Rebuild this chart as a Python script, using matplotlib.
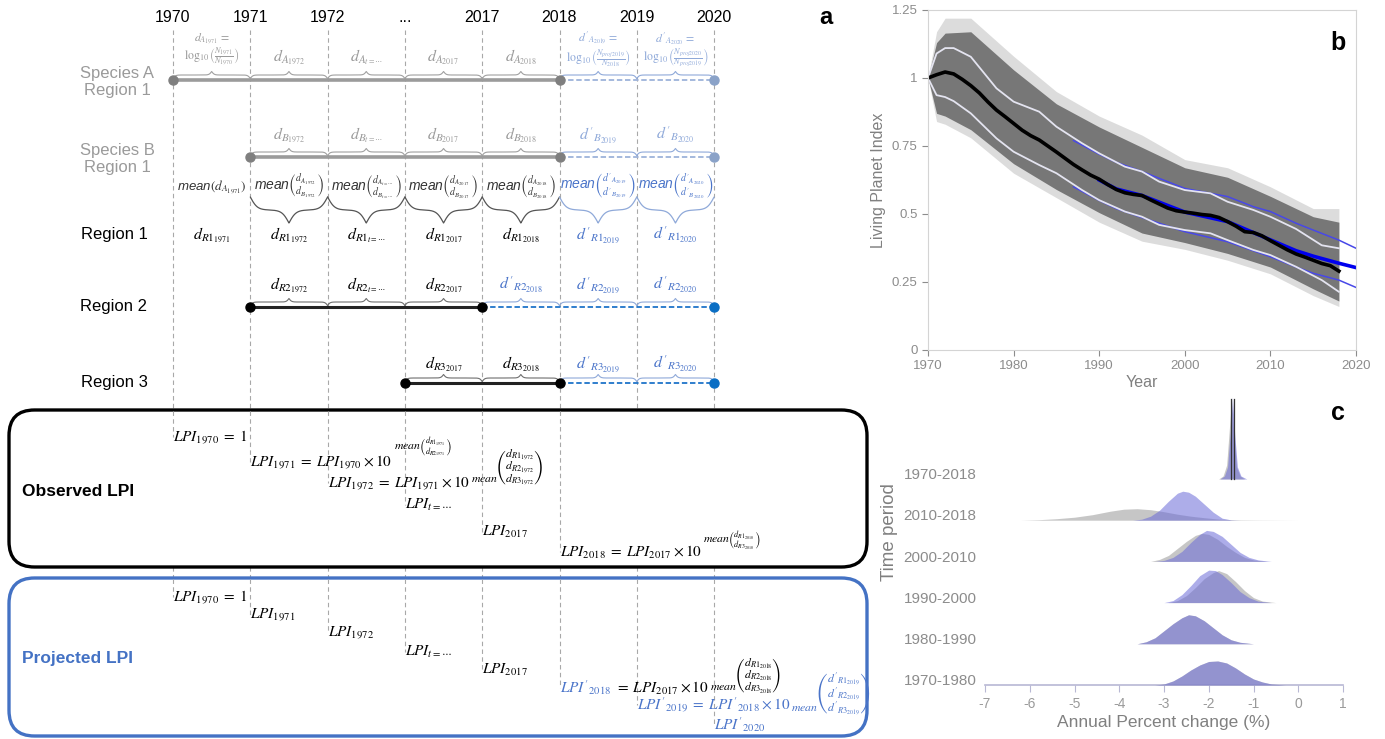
import numpy as np
import matplotlib.pyplot as plt
from matplotlib.patches import FancyBboxPatch

plt.rcParams['mathtext.fontset'] = 'stix'
plt.rcParams['font.family'] = ['Liberation Sans', 'DejaVu Sans']

W, H = 1385, 739

# ---------------- panel a data ----------------
col_years = ["1970", "1971", "1972", "...", "2017", "2018", "2019", "2020"]
iv_years = ["1971", "1972", r"t=\cdots", "2017", "2018", "2019", "2020"]  # year of each interval

# series: (first column, last observed column, last column)
spA_span = (0, 5, 7)
spB_span = (1, 5, 7)
r2_span = (1, 4, 7)
r3_span = (3, 5, 7)
r1_first = 0

# ---------------- panel b data ----------------
lpi_years = list(range(1970, 2019))
lpi_mean = [1.000, 1.012, 1.022, 1.015, 0.995, 0.972, 0.945, 0.912, 0.882, 0.858,
            0.833, 0.808, 0.788, 0.772, 0.750, 0.728, 0.705, 0.682, 0.662, 0.643,
            0.628, 0.608, 0.590, 0.578, 0.572, 0.568, 0.552, 0.537, 0.522, 0.512,
            0.507, 0.503, 0.498, 0.495, 0.487, 0.472, 0.455, 0.435, 0.432, 0.420,
            0.402, 0.385, 0.368, 0.353, 0.342, 0.330, 0.318, 0.310, 0.290]

band_years = [1970, 1971, 1972, 1975, 1980, 1985, 1990, 1995, 2000, 2005, 2010, 2015, 2018]
band_hi = [1.0, 1.13, 1.165, 1.17, 1.03, 0.905, 0.82, 0.745, 0.67, 0.635, 0.565, 0.49, 0.47]
band_lo = [1.0, 0.87, 0.86, 0.81, 0.685, 0.59, 0.505, 0.43, 0.395, 0.355, 0.305, 0.225, 0.18]
fringe_hi = [1.0, 1.17, 1.22, 1.22, 1.08, 0.95, 0.86, 0.79, 0.70, 0.67, 0.60, 0.52, 0.52]
fringe_lo = [1.0, 0.84, 0.83, 0.78, 0.65, 0.56, 0.47, 0.40, 0.37, 0.33, 0.28, 0.20, 0.16]

ci_years = [1970, 1971, 1972, 1973, 1975, 1978, 1980, 1983, 1985, 1988, 1990,
            1993, 1995, 1997, 2000, 2003, 2005, 2008, 2010, 2013, 2016, 2018]
ci_hi = [1.0, 1.09, 1.11, 1.11, 1.078, 0.962, 0.913, 0.876, 0.821, 0.760, 0.723,
         0.674, 0.656, 0.619, 0.588, 0.576, 0.545, 0.515, 0.490, 0.445, 0.385, 0.374]
ci_lo = [1.0, 0.937, 0.93, 0.915, 0.870, 0.778, 0.729, 0.680, 0.650, 0.588, 0.551,
         0.509, 0.490, 0.460, 0.441, 0.429, 0.404, 0.368, 0.349, 0.306, 0.257, 0.214]

proj_years = [1987, 1990, 1992, 1995, 2000, 2005, 2008, 2010, 2013, 2015, 2018, 2020]
proj_hi = [0.77, 0.72, 0.69, 0.656, 0.594, 0.564, 0.527, 0.509, 0.466, 0.441, 0.404, 0.374]
proj_lo = [0.60, 0.55, 0.52, 0.487, 0.435, 0.398, 0.365, 0.343, 0.305, 0.282, 0.257, 0.230]
projmed_years = [1990, 1992, 1995, 2000, 2005, 2010, 2013, 2015, 2018, 2020]
proj_med = [0.625, 0.592, 0.568, 0.507, 0.472, 0.405, 0.365, 0.345, 0.319, 0.303]

# ---------------- panel c data ----------------
periods = ["1970-1980", "1980-1990", "1990-2000", "2000-2010", "2010-2018", "1970-2018"]
grey_x = [
    [-3.2, -3.0, -2.8, -2.6, -2.4, -2.2, -2.0, -1.8, -1.6, -1.4, -1.2, -1.0, -0.8, -0.6, -0.3],
    [-3.6, -3.4, -3.2, -3.0, -2.8, -2.6, -2.45, -2.3, -2.1, -1.9, -1.7, -1.5, -1.3, -1.0],
    [-2.9, -2.7, -2.5, -2.3, -2.1, -1.9, -1.78, -1.6, -1.4, -1.2, -1.0, -0.8, -0.5],
    [-3.3, -3.1, -2.9, -2.7, -2.5, -2.3, -2.15, -2.0, -1.8, -1.6, -1.4, -1.2, -1.0, -0.7],
    [-6.2, -5.8, -5.4, -5.0, -4.6, -4.2, -3.9, -3.6, -3.3, -3.0, -2.7, -2.4, -2.1, -1.8, -1.4, -0.9, 0.0],
    [-1.78, -1.68, -1.6, -1.54, -1.49, -1.44, -1.38, -1.3, -1.2],
]
grey_d = [
    [0, 1, 4, 9, 15, 20, 23.5, 24, 22, 17, 11, 6, 3, 1, 0],
    [0, 2, 6, 13, 20, 26, 29, 28, 23, 16, 9, 4, 1.5, 0],
    [0, 2, 7, 15, 24, 30, 32, 29, 21, 12, 5, 1.5, 0],
    [0, 2, 6, 13, 20, 26, 28, 27, 22, 15, 9, 4, 1.5, 0],
    [0, 0.5, 1.5, 3, 5.5, 9, 11, 11.5, 10.5, 8.5, 6, 4, 2.5, 1.2, 0.4, 0.2, 0],
    [0, 3, 14, 50, 80, 45, 12, 3, 0],
]
purple_x = [
    [-3.2, -3.0, -2.8, -2.6, -2.4, -2.2, -2.0, -1.8, -1.6, -1.4, -1.2, -1.0, -0.8, -0.6, -0.3],
    [-3.6, -3.4, -3.2, -3.0, -2.8, -2.6, -2.45, -2.3, -2.1, -1.9, -1.7, -1.5, -1.3, -1.0],
    [-3.0, -2.8, -2.6, -2.4, -2.2, -2.0, -1.85, -1.7, -1.5, -1.3, -1.1, -0.9, -0.6],
    [-3.2, -3.0, -2.8, -2.6, -2.4, -2.2, -2.05, -1.9, -1.7, -1.5, -1.3, -1.1, -0.9, -0.6],
    [-3.7, -3.5, -3.3, -3.1, -2.9, -2.7, -2.58, -2.45, -2.3, -2.1, -1.9, -1.7, -1.5, -1.3],
    [-1.75, -1.65, -1.58, -1.52, -1.47, -1.42, -1.36, -1.28, -1.15],
]
purple_d = [
    [0, 1, 4, 9, 15, 20, 23.5, 24, 22, 17, 11, 6, 3, 1, 0],
    [0, 2, 6, 13, 20, 26, 29, 28, 23, 16, 9, 4, 1.5, 0],
    [0, 2, 8, 17, 27, 32.5, 32, 28, 20, 11, 5, 1.5, 0],
    [0, 1, 4, 10, 19, 27, 31, 30, 25, 17, 9, 4, 1.5, 0],
    [0, 1, 4, 10, 19, 27, 29, 28, 24, 16, 8, 2, 0.3, 0],
    [0, 3, 12, 45, 82, 45, 12, 3, 0],
]
overall_medians = [-1.50, -1.44]
x_ticks_c = [-7, -6, -5, -4, -3, -2, -1, 0, 1]

# ---------------- colours ----------------
GREY_TXT = '#9a9a9a'
LBLUE_TXT = '#8fa9d9'
BLUE_TXT = '#4a74c9'
BOX_BLUE = '#4472c4'

fig = plt.figure(figsize=(W / 100, H / 100), dpi=100)

# ========== panel a ==========
CW = 77.3  # pixels per column


def cx(px):
    return (px - 173) / CW


ax = fig.add_axes([0, 0, 870 / W, 1])
ax.set_xlim(cx(0), cx(870))
ax.set_ylim(H, 0)
ax.axis('off')


def brace(x0, x1, y, h, color, lw=0.8, beta=60.0, up=True):
    xs = np.linspace(x0, x1, 201)
    half = xs[:101]
    yh = 1 / (1 + np.exp(-beta * (half - half[0]))) + 1 / (1 + np.exp(-beta * (half - half[-1])))
    yy = np.concatenate([yh, yh[-2::-1]]) - 0.5
    sign = -1 if up else 1
    ax.plot(xs, y + sign * yy * h, color=color, lw=lw, zorder=3, solid_capstyle='round')


# year header and dashed guides
for i, yr in enumerate(col_years):
    ax.text(i, 17, yr, ha='center', va='center', fontsize=11.5, color='black')
    ax.plot([i, i], [30, 737], ls=(0, (4, 3)), color='#a8a8a8', lw=0.8, zorder=1)

# boxes
obs_box = FancyBboxPatch((cx(9), 410), cx(867) - cx(9), 157,
                         boxstyle='round,pad=0,rounding_size=0.33', mutation_aspect=CW,
                         fc='white', ec='black', lw=2.4, zorder=2)
proj_box = FancyBboxPatch((cx(9), 578), cx(867) - cx(9), 158,
                          boxstyle='round,pad=0,rounding_size=0.33', mutation_aspect=CW,
                          fc='white', ec=BOX_BLUE, lw=2.4, zorder=2)
ax.add_patch(obs_box)
ax.add_patch(proj_box)

# row labels
ax.text(cx(117), 82, "Species A\nRegion 1", ha='center', va='center', fontsize=12,
        color=GREY_TXT, linespacing=1.15)
ax.text(cx(117), 159, "Species B\nRegion 1", ha='center', va='center', fontsize=12,
        color=GREY_TXT, linespacing=1.15)
for name, y in [("Region 1", 234), ("Region 2", 307), ("Region 3", 383)]:
    ax.text(cx(114), y, name, ha='center', va='center', fontsize=12, color='black')


def series_line(span, y, c_obs, c_proj, m_obs, m_proj, lw, b_obs):
    s, o, e = span
    ax.plot([s, o], [y, y], color=c_obs, lw=lw, zorder=3, solid_capstyle='butt')
    ax.plot([o, e], [y, y], color=c_proj, lw=1.3, ls=(0, (3, 1.5)), zorder=3)
    ax.plot([s, o], [y, y], 'o', color=m_obs, ms=6.5, zorder=4)
    ax.plot([e], [y], 'o', color=m_proj, ms=6.5, zorder=4)
    for i in range(s, e):
        brace(i, i + 1, y - 1.5, 7, b_obs if i < o else LBLUE_TXT, lw=0.8)


series_line(spA_span, 80, '#9b9b9b', '#9db3da', '#7f7f7f', '#8aa2c8', 2.6, '#a0a0a0')
series_line(spB_span, 157, '#9b9b9b', '#9db3da', '#7f7f7f', '#8aa2c8', 2.6, '#a0a0a0')
series_line(r2_span, 307, '#222222', '#1f74c9', 'black', '#0a6ec4', 2.2, '#6e6e6e')
series_line(r3_span, 383, '#222222', '#1f74c9', 'black', '#0a6ec4', 2.2, '#6e6e6e')

DL = 11.5  # size of the d labels

# species A labels
for i in range(spA_span[0], spA_span[2]):
    proj = i >= spA_span[1]
    c = LBLUE_TXT if proj else GREY_TXT
    p = "'" if proj else ""
    yr = iv_years[i]
    if i == 0 or proj:
        prev = "N_{1970}" if i == 0 else ("N_{2018}" if yr == "2019" else "N_{proj2019}")
        cur = "N_{1971}" if i == 0 else "N_{proj%s}" % yr
        lbl = (r"$d%s_{A_{%s}}\,=$" % (p, yr) + "\n" +
               r"$\log_{10}\left(\frac{%s}{%s}\right)$" % (cur, prev))
        ax.text(i + 0.5, 50, lbl, ha='center', va='center', fontsize=8.5, color=c,
                linespacing=0.95)
    else:
        ax.text(i + 0.5, 57, r"$d_{A_{%s}}$" % yr, ha='center', va='center',
                fontsize=DL, color=c)

# species B labels
for i in range(spB_span[0], spB_span[2]):
    proj = i >= spB_span[1]
    c = LBLUE_TXT if proj else GREY_TXT
    p = "'" if proj else ""
    ax.text(i + 0.5, 135, r"$d%s_{B_{%s}}$" % (p, iv_years[i]), ha='center',
            va='center', fontsize=DL, color=c)

# mean row + downward braces
ax.text(0.5, 187, "mean" + r"$(d_{A_{1971}})$", ha='center', va='center', fontsize=9.5,
        style='italic', color='#333333')
for i in range(1, 7):
    proj = i >= spA_span[1]
    c = BLUE_TXT if proj else '#333333'
    p = "'" if proj else ""
    yr = iv_years[i]
    ax.text(i + 0.5, 186, "mean" + r"$\binom{d%s_{A_{%s}}}{d%s_{B_{%s}}}$" % (p, yr, p, yr),
            ha='center', va='center', fontsize=10, style='italic', color=c)
    brace(i, i + 1, 197, 26, LBLUE_TXT if proj else '#555555', lw=0.9, beta=22, up=False)

# region labels
for i in range(r1_first, 7):
    proj = i >= spA_span[1]
    p = "'" if proj else ""
    ax.text(i + 0.5, 235, r"$d%s_{R1_{%s}}$" % (p, iv_years[i]), ha='center', va='center',
            fontsize=DL, color=BLUE_TXT if proj else 'black')
for i in range(r2_span[0], r2_span[2]):
    proj = i >= r2_span[1]
    p = "'" if proj else ""
    ax.text(i + 0.5, 285, r"$d%s_{R2_{%s}}$" % (p, iv_years[i]), ha='center', va='center',
            fontsize=DL, color=BLUE_TXT if proj else 'black')
for i in range(r3_span[0], r3_span[2]):
    proj = i >= r3_span[1]
    p = "'" if proj else ""
    ax.text(i + 0.5, 364, r"$d%s_{R3_{%s}}$" % (p, iv_years[i]), ha='center', va='center',
            fontsize=DL, color=BLUE_TXT if proj else 'black')

# box titles
ax.text(cx(22), 491, "Observed LPI", ha='left', va='center', fontsize=12.5,
        fontweight='bold', color='black', zorder=5)
ax.text(cx(22), 658, "Projected LPI", ha='left', va='center', fontsize=12.5,
        fontweight='bold', color=BOX_BLUE, zorder=5)

# equations
EQ = 11
obs_eq_y = [437, 462, 483, 505, 532, 552]
proj_eq_y = [597, 615, 633, 652, 670, 688, 705, 725]
for i, y in enumerate(obs_eq_y):
    ax.plot([i, i], [411, y], ls=(0, (4, 3)), color='#a8a8a8', lw=0.8, zorder=3)
for i, y in enumerate(proj_eq_y):
    ax.plot([i, i], [579, y], ls=(0, (4, 3)), color='#a8a8a8', lw=0.8, zorder=3)


def eq(i, y, s, color='black'):
    return ax.text(i, y, s, ha='left', va='center', fontsize=EQ, color=color, zorder=5)


def expo(base, s, color='black', dy=1):
    return ax.annotate(s, xy=(1, 1), xycoords=base, xytext=(1, dy), textcoords='offset points',
                       ha='left', va='center', fontsize=8.5, color=color, zorder=5)


eq(0, obs_eq_y[0], r"$LPI_{1970}\;=\;1$")
t = eq(1, obs_eq_y[1], r"$LPI_{1971}\;=\;LPI_{1970}\times 10$")
expo(t, r"$mean\binom{d_{R1_{1971}}}{d_{R2_{1971}}}$", dy=4)
t = eq(2, obs_eq_y[2], r"$LPI_{1972}\;=\;LPI_{1971}\times 10$")
expo(t, r"$mean\left(\substack{d_{R1_{1972}}\\ d_{R2_{1972}}\\ d_{R3_{1972}}}\right)$", dy=5)
eq(3, obs_eq_y[3], r"$LPI_{t=\cdots}$")
eq(4, obs_eq_y[4], r"$LPI_{2017}$")
t = eq(5, obs_eq_y[5], r"$LPI_{2018}\;=\;LPI_{2017}\times 10$")
expo(t, r"$mean\binom{d_{R1_{2018}}}{d_{R3_{2018}}}$", dy=2)

eq(0, proj_eq_y[0], r"$LPI_{1970}\;=\;1$")
eq(1, proj_eq_y[1], r"$LPI_{1971}$")
eq(2, proj_eq_y[2], r"$LPI_{1972}$")
eq(3, proj_eq_y[3], r"$LPI_{t=\cdots}$")
eq(4, proj_eq_y[4], r"$LPI_{2017}$")
t = eq(5, proj_eq_y[5], r"$LPI'_{2018}$", BLUE_TXT)
t2 = ax.annotate(r"$=\;LPI_{2017}\times 10$", xy=(1, 0.5), xycoords=t, xytext=(3, 0),
                 textcoords='offset points', ha='left', va='center', fontsize=EQ,
                 color='black', zorder=5)
expo(t2, r"$mean\left(\substack{d_{R1_{2018}}\\ d_{R2_{2018}}\\ d_{R3_{2018}}}\right)$", dy=3)
t = eq(6, proj_eq_y[6], r"$LPI'_{2019}\;=\;LPI'_{2018}\times 10$", BLUE_TXT)
expo(t, r"$mean\left(\substack{d'_{R1_{2019}}\\ d'_{R2_{2019}}\\ d'_{R3_{2019}}}\right)$",
     BLUE_TXT, dy=1)
eq(7, proj_eq_y[7], r"$LPI'_{2020}$", BLUE_TXT)

fig.text(826 / W, 1 - 17 / H, 'a', fontsize=17, fontweight='bold', ha='center', va='center')

# ========== panel b ==========
axb = fig.add_axes([928 / W, 1 - 350 / H, (1356 - 928) / W, 340 / H])
axb.fill_between(band_years, fringe_lo, fringe_hi, color='#8c8c8c', alpha=0.3, lw=0)
axb.fill_between(band_years, band_lo, band_hi, color='#777777', lw=0)
axb.plot(proj_years, proj_hi, color='#4848e8', lw=1.1)
axb.plot(proj_years, proj_lo, color='#4848e8', lw=1.1)
axb.plot(ci_years, ci_hi, color='#e4e4f0', lw=1.3)
axb.plot(ci_years, ci_lo, color='#e4e4f0', lw=1.3)
axb.plot(projmed_years, proj_med, color='#0000ee', lw=2.6)
axb.plot(lpi_years, lpi_mean, color='black', lw=2.6)
axb.set_xlim(1970, 2020)
axb.set_ylim(0, 1.25)
axb.set_xticks([1970, 1980, 1990, 2000, 2010, 2020])
axb.set_yticks([0, 0.25, 0.5, 0.75, 1, 1.25])
axb.set_yticklabels(["0", "0.25", "0.5", "0.75", "1", "1.25"])
for s in axb.spines.values():
    s.set_color('#d4d4d4')
axb.tick_params(colors='#8c8c8c', labelsize=9.5, length=4)
axb.set_ylabel("Living Planet Index", color='#808080', fontsize=11.5)
axb.set_xlabel("Year", color='#808080', fontsize=11.5, labelpad=2)
fig.text(1338 / W, 1 - 43 / H, 'b', fontsize=18, fontweight='bold', ha='center', va='center')

# ========== panel c ==========
ROW = 41.2  # pixels between ridges
axc = fig.add_axes([985 / W, 1 - 685 / H, (1343 - 985) / W, (685 - 380) / H])
axc.patch.set_alpha(0)
scale = 1 / ROW
for r in range(len(periods) - 1, -1, -1):
    gx, gd = np.array(grey_x[r]), np.array(grey_d[r]) * scale
    px_, pd = np.array(purple_x[r]), np.array(purple_d[r]) * scale
    z = 10 - r
    axc.fill_between(gx, r, r + gd, color='#b4b4b4', alpha=0.75, lw=0, zorder=z)
    axc.fill_between(px_, r, r + pd, color='#6a6ad8', alpha=0.55, lw=0, zorder=z + 0.1)
for xm in overall_medians:
    axc.plot([xm, xm], [5, 5 + 80 * scale], color='#333333', lw=0.9, zorder=20)
axc.set_xlim(-7, 1)
axc.set_ylim(0, (685 - 380) / ROW)
axc.set_xticks(x_ticks_c)
axc.set_xticklabels([str(v) for v in x_ticks_c])
axc.set_yticks([r + 0.13 for r in range(len(periods))])
axc.set_yticklabels(periods)
for k in ['top', 'right', 'left']:
    axc.spines[k].set_visible(False)
axc.spines['bottom'].set_color('#b8b8d4')
axc.spines['bottom'].set_linewidth(1.2)
axc.tick_params(axis='x', colors='#b8b8d4', labelcolor='#9a9a9a', labelsize=10, length=5)
axc.tick_params(axis='y', length=0, labelcolor='#8c8c8c', labelsize=11, pad=6)
axc.set_xlabel("Annual Percent change (%)", color='#808080', fontsize=12.5, labelpad=3)
axc.set_ylabel("Time period", color='#808080', fontsize=13.5)
fig.text(1338 / W, 1 - 413 / H, 'c', fontsize=18, fontweight='bold', ha='center', va='center')

fig.savefig('out.png', dpi=100)
